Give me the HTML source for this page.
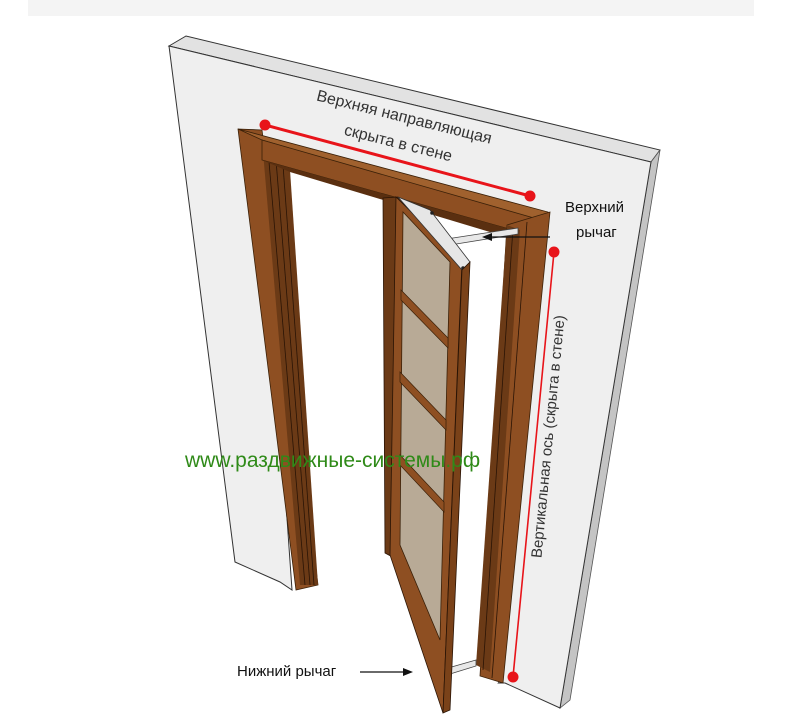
<!DOCTYPE html>
<html><head><meta charset="utf-8"><style>
html,body{margin:0;padding:0;background:#fff;}
svg{display:block}
text{font-family:"Liberation Sans","DejaVu Sans",sans-serif;}
</style></head><body>
<svg width="807" height="719" viewBox="0 0 807 719" xmlns="http://www.w3.org/2000/svg">
<rect x="28" y="0" width="726" height="16" fill="#f4f4f4"/>
<polygon points="169,46 186,36 660,150 651,162" fill="#e2e2e2" stroke="#333" stroke-width="1"/>
<polygon points="651,162 660,150 570,700 560,708" fill="#c4c4c4" stroke="#555" stroke-width="0.8"/>
<polygon points="169,46 651,162 560,708 505,683 498,683 520,232 262,160 292,590 280,582 235,562" fill="#efefef" stroke="#333" stroke-width="1"/>
<polygon points="262,160 520,232 498,683 300,590" fill="#fff"/>
<polygon points="238,129 262,130 318,585 296,590" fill="#8e4f22" stroke="#3a2008" stroke-width="0.8"/>
<polygon points="262,140 290,170 318,585 300,585" fill="#6b3a16"/>
<line x1="268" y1="150" x2="305" y2="585" stroke="#2a1405" stroke-width="0.8"/>
<line x1="276" y1="160" x2="310" y2="585" stroke="#2a1405" stroke-width="0.8"/>
<line x1="283" y1="165" x2="314" y2="585" stroke="#2a1405" stroke-width="0.8"/>
<polygon points="238,129 548,212 548,225 262,140" fill="#a0612e" stroke="#3a2008" stroke-width="0.8"/>
<polygon points="262,140 548,222 520,232 262,160" fill="#8e4f22" stroke="#3a2008" stroke-width="0.8"/>
<polygon points="262,160 520,232 510,238 290,172" fill="#5a2f10"/>
<polygon points="507,225 550,212 503,683 480,676" fill="#8e4f22" stroke="#3a2008" stroke-width="0.8"/>
<polygon points="507,225 520,230 490,672 476,665" fill="#6b3a16"/>
<line x1="513" y1="228" x2="483" y2="670" stroke="#2a1405" stroke-width="0.8"/>
<line x1="527" y1="222" x2="492" y2="678" stroke="#2a1405" stroke-width="0.8"/>
<polygon points="440,240 518,228 518,234 444,246" fill="#e8e8e8" stroke="#444" stroke-width="0.8"/>
<polygon points="448,668 476,660 476,666 450,674" fill="#e8e8e8" stroke="#444" stroke-width="0.8"/>
<polygon points="383,198 398,197 398,560 385,553" fill="#6b3a16" stroke="#2a1405" stroke-width="0.8"/>
<polygon points="396,197 462,262 443,713 390,555" fill="#8e4f22" stroke="#2a1405" stroke-width="0.8"/>
<polygon points="403,212 450,262 440,640 400,545" fill="#b8aa96" stroke="#3a2008" stroke-width="0.8"/>
<polygon points="401,290 448,338 448,348 401,300" fill="#8e4f22" stroke="#3a2008" stroke-width="0.7"/>
<polygon points="400,372 446,420 446,430 400,382" fill="#8e4f22" stroke="#3a2008" stroke-width="0.7"/>
<polygon points="400,455 444,502 444,512 400,465" fill="#8e4f22" stroke="#3a2008" stroke-width="0.7"/>
<polygon points="398,197 430,210 470,262 462,270" fill="#e6e6e6" stroke="#333" stroke-width="0.8"/>
<circle cx="432" cy="213" r="1.8" fill="#222"/>
<circle cx="463" cy="268" r="1.8" fill="#222"/>
<polygon points="462,270 470,262 450,710 443,713" fill="#7a4219" stroke="#2a1405" stroke-width="0.8"/>
<line x1="265" y1="125" x2="530" y2="196" stroke="#e8141a" stroke-width="3"/>
<circle cx="265" cy="125" r="5.5" fill="#e8141a"/>
<circle cx="530" cy="196" r="5.5" fill="#e8141a"/>
<line x1="554" y1="252" x2="513" y2="677" stroke="#e8141a" stroke-width="1.6"/>
<circle cx="554" cy="252" r="5.5" fill="#e8141a"/>
<circle cx="513" cy="677" r="5.5" fill="#e8141a"/>
<text x="403" y="122" font-size="16" fill="#333" text-anchor="middle" transform="rotate(14 403 122)">Верхняя направляющая</text>
<text x="397" y="148" font-size="16" fill="#333" text-anchor="middle" transform="rotate(14 397 148)">скрыта в стене</text>
<text x="565" y="212" font-size="15" fill="#111">Верхний</text>
<text x="576" y="237" font-size="15" fill="#111">рычаг</text>
<line x1="550" y1="237" x2="490" y2="237" stroke="#111" stroke-width="1.3"/>
<polygon points="482,237 492,233 492,241" fill="#111"/>
<text x="553" y="437" font-size="15" fill="#333" text-anchor="middle" transform="rotate(-84.5 553 437)">Вертикальная ось (скрыта в стене)</text>
<text x="185" y="467" font-size="21" fill="#2f8a18">www.раздвижные-системы.рф</text>
<text x="237" y="676" font-size="15" fill="#111">Нижний рычаг</text>
<line x1="360" y1="672" x2="404" y2="672" stroke="#111" stroke-width="1.3"/>
<polygon points="413,672 403,668 403,676" fill="#111"/>
</svg>
</body></html>
